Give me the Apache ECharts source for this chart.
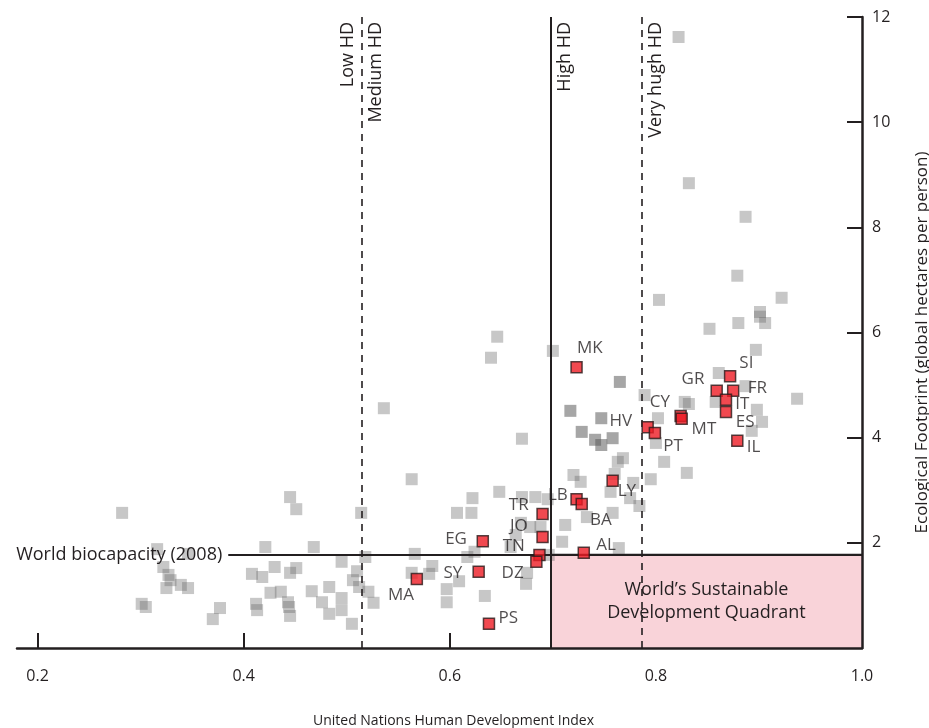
<!DOCTYPE html>
<html>
<head>
<meta charset="utf-8">
<script src="https://cdn.jsdelivr.net/npm/echarts@6/dist/echarts.min.js"></script>
<style>
html,body{margin:0;padding:0;background:#fff;}
#chart{width:929px;height:728px;}
</style>
</head>
<body>
<div id="chart"></div>
<script>
// ---- Data ----
const grayHdi = [0.282,0.445,0.451,0.316,0.346,0.421,0.468,0.322,0.327,0.329,
  0.325,0.339,0.346,0.301,0.305,0.377,0.370,0.408,0.418,0.430,
  0.445,0.451,0.426,0.436,0.443,0.444,0.445,0.412,0.413,0.466,
  0.476,0.483,0.483,0.495,0.495,0.505,0.495,0.510,0.506,0.512,
  0.521,0.526,0.514,0.518,0.536,0.563,0.566,0.563,0.583,0.580,
  0.597,0.597,0.609,0.617,0.624,0.634,0.607,0.621,0.622,0.648,
  0.670,0.646,0.640,0.700,0.670,0.683,0.695,0.669,0.678,0.688,
  0.664,0.659,0.675,0.674,0.696,0.712,0.709,0.733,0.758,0.764,
  0.720,0.727,0.760,0.756,0.778,0.775,0.784,0.763,0.768,0.789,
  0.802,0.800,0.808,0.795,0.830,0.828,0.832,0.803,0.822,0.832,
  0.887,0.879,0.922,0.901,0.901,0.906,0.880,0.852,0.897,0.861,
  0.887,0.858,0.937,0.898,0.903,0.893];
const grayEf = [2.57,2.87,2.64,1.88,1.79,1.92,1.92,1.54,1.39,1.29,
  1.14,1.20,1.14,0.84,0.78,0.76,0.55,1.41,1.35,1.54,
  1.43,1.52,1.05,1.07,0.87,0.78,0.61,0.84,0.72,1.08,
  0.87,1.16,0.65,0.95,0.72,0.46,1.64,1.46,1.29,1.16,
  1.07,0.86,2.57,1.73,4.56,3.21,1.79,1.43,1.56,1.41,
  1.12,0.87,1.27,1.73,1.83,0.99,2.57,2.57,2.85,2.97,
  3.98,5.92,5.52,5.65,2.87,2.87,2.83,2.38,2.30,2.30,
  2.15,1.92,1.43,1.22,1.77,2.34,2.02,2.49,2.57,1.90,
  3.29,3.16,3.31,2.97,3.14,2.85,2.70,3.54,3.61,4.81,
  4.37,3.90,3.54,3.21,3.33,4.68,4.64,6.62,11.62,8.84,
  8.20,7.08,6.66,6.39,6.30,6.18,6.18,6.07,5.67,5.23,
  4.98,4.68,4.74,4.53,4.30,4.13];

const darkHdi = [0.765,0.717,0.747,0.728,0.741,0.747,0.758];
const darkEf  = [5.06,4.51,4.37,4.11,3.96,3.86,3.99];

const medCodes = ['MK','SI','GR','FR','IT','ES','IL','CY','MT','HV','PT','LY','LB','BA','TR','JO','EG','TN','DZ','AL','SY','PS','MA'];
const medHdi = [0.723,0.872,0.859,0.875,0.868,0.868,0.879,0.824,0.825,0.792,0.799,0.758,0.723,0.728,0.690,0.690,0.632,0.687,0.684,0.730,0.628,0.638,0.568];
const medEf  = [5.34,5.17,4.89,4.89,4.72,4.49,3.94,4.41,4.36,4.20,4.09,3.18,2.83,2.74,2.55,2.11,2.03,1.77,1.64,1.81,1.45,0.46,1.31];

const xTicks = [0.2,0.4,0.6,0.8,1.0];
const yTicks = [2,4,6,8,10,12];

const hdiThresholds = { lowMedium: 0.515, high: 0.698, veryHigh: 0.786 };
const worldBiocapacity = 1.78;
const biocapStartHdi = 0.385;

// ---- Layout/style (not data) ----
const labelOffset = {
  MK:[14,-18], SI:[17,-12], GR:[-23,-11], FR:[25,-2], IT:[17,5], ES:[20,11], IL:[17,7],
  CY:[-20,-13], MT:[23,11], HV:[-26,-5], PT:[19,14], LY:[15,11], LB:[-18,-3], BA:[20,17],
  TR:[-23,-8], JO:[-23,-10], EG:[-26,-1], TN:[-25,-8], DZ:[-23,12], AL:[23,-7], SY:[-25,2],
  PS:[20,-5], MA:[-15,17]
};
const FONT = 'Open Sans';
const INK = '#231f20';
const MED_SIZE = 11;

const grayData = grayHdi.map((x,i)=>[x, grayEf[i]]);
const darkData = darkHdi.map((x,i)=>[x, darkEf[i]]);
const medData = medCodes.map((c,i)=>({
  name:c, value:[medHdi[i], medEf[i]],
  label:{offset: labelOffset[c]}
}));

function vLine(x, text, side, style){
  return [
    { coord:[x,0],
      lineStyle: style,
      label:{ show:true, formatter:text, position: side, distance: 5,
              color:INK, fontFamily:FONT, fontSize:18 } },
    { coord:[x,12] }
  ];
}
const dashStyle = {type:[7,6], width:1.6, color:INK};
const solidStyle = {type:'solid', width:2, color:INK};
const hiddenStyle = {type:'solid', width:0.01, color:'rgba(0,0,0,0)'};

const chart = echarts.init(document.getElementById('chart'), null, {renderer:'canvas'});
chart.setOption({
  animation:false,
  backgroundColor:'#fff',
  grid:{left:17, right:67, top:17, bottom:80, containLabel:false, outerBoundsMode:'none'},
  xAxis:{
    type:'value', min:0.18, max:1.0,
    name:'United Nations Human Development Index',
    nameLocation:'middle', nameGap:66,
    nameTextStyle:{color:INK, fontFamily:FONT, fontSize:14, padding:[0,0,0,28]},
    axisLine:{show:true, onZero:false, lineStyle:{color:INK, width:2.5}},
    axisTick:{show:true, inside:true, length:15, customValues:xTicks, lineStyle:{color:INK, width:2}},
    axisLabel:{show:true, customValues:xTicks, margin:20, color:INK, fontFamily:FONT, fontSize:16,
      formatter:v=>v.toFixed(1)},
    splitLine:{show:false}
  },
  yAxis:{
    type:'value', min:0, max:12, position:'right',
    name:'Ecological Footprint (global hectares per person)',
    nameLocation:'middle', nameGap:52, nameRotate:90,
    nameTextStyle:{color:INK, fontFamily:FONT, fontSize:17, padding:[0,20,0,0]},
    axisLine:{show:true, onZero:false, lineStyle:{color:INK, width:2.5}},
    axisTick:{show:true, inside:true, length:15, customValues:yTicks, lineStyle:{color:INK, width:2}},
    axisLabel:{show:true, customValues:yTicks, margin:10, color:INK, fontFamily:FONT, fontSize:16},
    splitLine:{show:false}
  },
  series:[
    {
      type:'scatter', name:'other', data:grayData, symbol:'rect', symbolSize:12,
      itemStyle:{color:'rgba(100,100,100,0.45)'},
      z:3,
      markArea:{
        silent:true,
        itemStyle:{color:'#f9d3d9', borderColor:INK, borderWidth:1.5},
        label:{show:true, position:'inside', color:INK, fontFamily:FONT, fontSize:18, lineHeight:23,
          formatter:'World\u2019s Sustainable\nDevelopment Quadrant'},
        data:[[ {coord:[hdiThresholds.high, 0]}, {coord:[1.0, worldBiocapacity]} ]]
      },
      markLine:{
        silent:true, symbol:'none', animation:false,
        data:[
          vLine(hdiThresholds.lowMedium, 'Low HD', 'insideEndTop', dashStyle),
          vLine(hdiThresholds.lowMedium, 'Medium HD', 'insideEndBottom', hiddenStyle),
          vLine(hdiThresholds.high, 'High HD', 'insideEndBottom', solidStyle),
          vLine(hdiThresholds.veryHigh, 'Very hugh HD', 'insideEndBottom', dashStyle),
          [
            { coord:[biocapStartHdi, worldBiocapacity], lineStyle:solidStyle,
              label:{show:true, position:'start', formatter:'World biocapacity (2008)', distance:6,
                     color:INK, fontFamily:FONT, fontSize:18} },
            { coord:[1.0, worldBiocapacity] }
          ]
        ]
      }
    },
    {
      type:'scatter', name:'dark', data:darkData, symbol:'rect', symbolSize:12,
      itemStyle:{color:'rgba(90,90,90,0.68)'}, z:4
    },
    {
      type:'scatter', name:'med', data:medData, symbol:'rect', symbolSize:MED_SIZE,
      itemStyle:{color:'#ed1c24', borderColor:'#2b1a1a', borderWidth:1.5},
      z:5,
      label:{show:true, position:[MED_SIZE/2, MED_SIZE/2], formatter:'{b}', color:INK, fontFamily:FONT, fontSize:17,
        align:'center', verticalAlign:'middle'}
    }
  ]
});
</script>
</body>
</html>
